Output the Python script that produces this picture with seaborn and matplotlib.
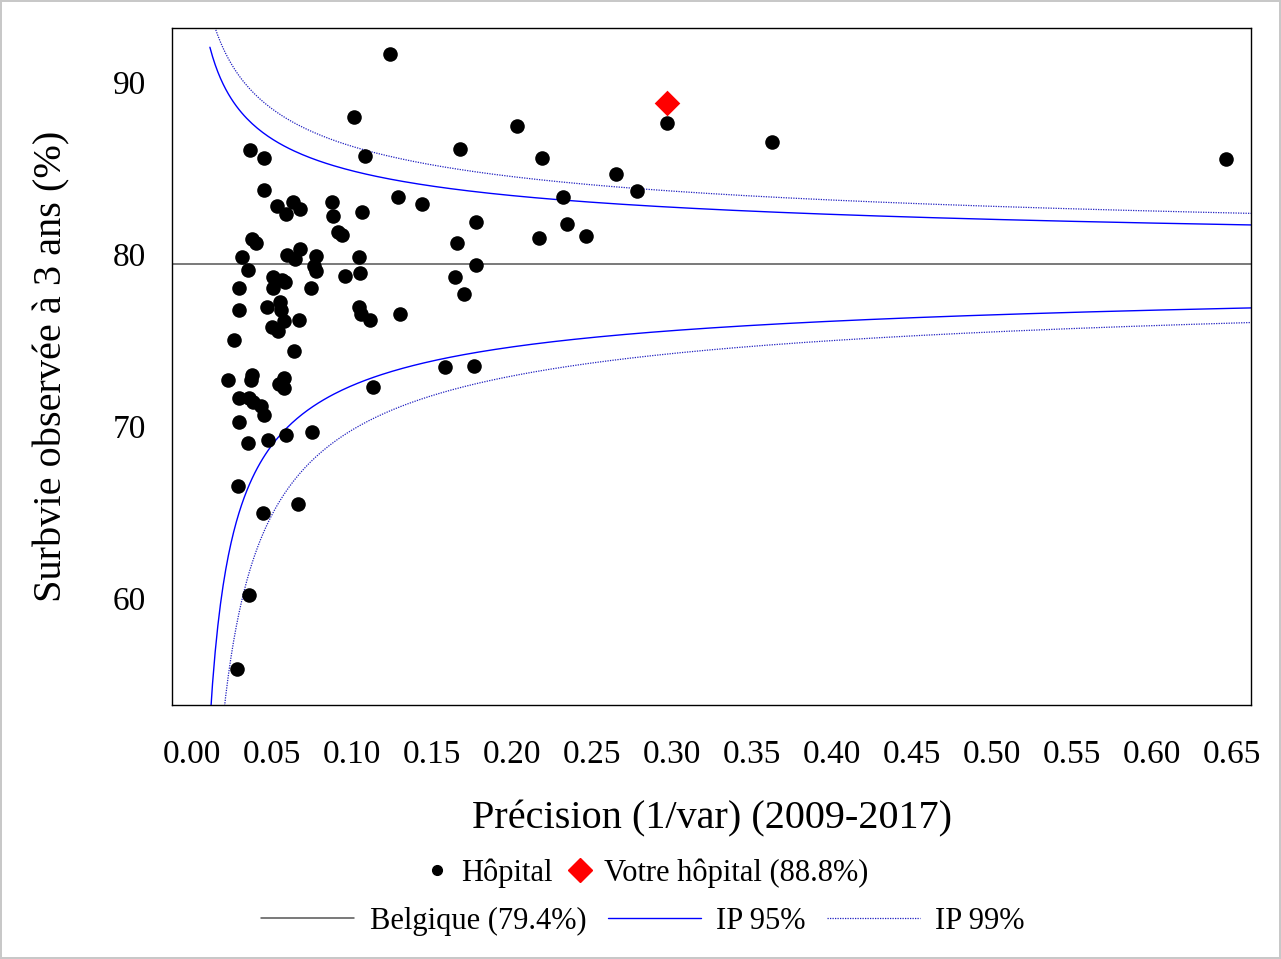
import numpy as np
import pandas as pd
import matplotlib
matplotlib.use("Agg")
import matplotlib.pyplot as plt
from matplotlib.lines import Line2D
import seaborn as sns

# hospitals: precision (1/var) and observed 3-year survival (%)
precision = [0.1233, 0.1009, 0.0361, 0.0450, 0.1079, 0.1671, 0.2027, 0.2183, 0.2969, 0.3624,
             0.6460, 0.2649, 0.2779, 0.2317, 0.2344, 0.2461, 0.2164, 0.1286, 0.1438, 0.1773,
             0.1652, 0.1771, 0.1639, 0.1698, 0.1577, 0.1761, 0.1300, 0.1129, 0.1042, 0.1054,
             0.1108, 0.1048, 0.1042, 0.1063, 0.0872, 0.0880, 0.0913, 0.0933, 0.0952, 0.0775,
             0.0763, 0.0775, 0.0676, 0.0594, 0.0641, 0.0631, 0.0676, 0.0583, 0.0531, 0.0450,
             0.0375, 0.0400, 0.0309, 0.0346, 0.0503, 0.0563, 0.0578, 0.0294, 0.0502, 0.0744,
             0.0290, 0.0464, 0.0547, 0.0553, 0.0575, 0.0669, 0.0496, 0.0533, 0.0258, 0.0633,
             0.0222, 0.0374, 0.0367, 0.0575, 0.0543, 0.0575, 0.0293, 0.0353, 0.0381, 0.0428,
             0.0451, 0.0291, 0.0348, 0.0472, 0.0588, 0.0747, 0.0283, 0.0439, 0.0663, 0.0356,
             0.0277]
survival = [91.61, 87.97, 86.06, 85.58, 85.68, 86.09, 87.46, 85.58, 87.63, 86.53,
            85.52, 84.67, 83.68, 83.31, 81.76, 81.03, 80.91, 83.30, 82.91, 81.86,
            80.66, 79.36, 78.66, 77.67, 73.45, 73.51, 76.49, 72.25, 76.90, 76.49,
            76.15, 78.88, 79.81, 82.46, 83.01, 82.19, 81.28, 81.09, 78.72, 79.91,
            79.28, 79.04, 80.32, 79.97, 79.70, 83.03, 82.60, 82.31, 82.81, 83.70,
            80.89, 80.66, 79.84, 79.07, 78.68, 78.49, 78.37, 78.01, 78.01, 78.01,
            76.74, 76.94, 77.21, 76.74, 76.12, 76.15, 75.77, 75.54, 75.00, 74.36,
            72.67, 72.97, 72.67, 72.79, 72.43, 72.19, 71.61, 71.61, 71.41, 71.19,
            70.66, 70.25, 69.03, 69.17, 69.49, 69.63, 66.52, 64.94, 65.45, 60.19,
            55.85]

# your hospital
own_precision = [0.2966]
own_survival = [88.8]

# national reference and prediction-interval z values
belgium_pct = 79.4
z95 = 1.96
z99 = 2.576

x_ticks = np.round(np.arange(0, 0.651, 0.05), 2)
y_ticks = [60, 70, 80, 90]

# funnel limits on the complementary log-log scale
w = np.linspace(0.011, 0.67, 400)
s0 = belgium_pct / 100
sd_cll = (1 / np.sqrt(w) / 100) / abs(s0 * np.log(s0))
def limit(z):
    return 100 * np.exp(-np.exp(np.log(-np.log(s0)) + z * sd_cll))
funnel = pd.DataFrame({"w": w,
                       "up95": limit(-z95), "lo95": limit(z95),
                       "up99": limit(-z99), "lo99": limit(z99)})

sns.set_theme(style="white")
plt.rcParams["font.family"] = ["Liberation Serif", "DejaVu Serif"]
plt.rcParams["text.color"] = "black"

fig = plt.figure(figsize=(12.81, 9.59), dpi=100)
fig.patch.set_edgecolor("#c8c8c8")
fig.patch.set_linewidth(1.5)
ax = fig.add_axes([172.3 / 1281, 1 - 705 / 959, (1251 - 172.3) / 1281, (705 - 28) / 959])

ax.axhline(belgium_pct, color="#555555", lw=1.1, zorder=1)
sns.lineplot(data=funnel, x="w", y="up95", ax=ax, color="blue", lw=1.0, zorder=2)
sns.lineplot(data=funnel, x="w", y="lo95", ax=ax, color="blue", lw=1.0, zorder=2)
sns.lineplot(data=funnel, x="w", y="up99", ax=ax, color="#2020c0", lw=0.9, ls=(0, (1, 1)), zorder=2)
sns.lineplot(data=funnel, x="w", y="lo99", ax=ax, color="#2020c0", lw=0.9, ls=(0, (1, 1)), zorder=2)

sns.scatterplot(x=precision, y=survival, ax=ax, color="black", s=110, linewidth=0, zorder=3, legend=False)
sns.scatterplot(x=own_precision, y=own_survival, ax=ax, color="red", marker="D", s=170,
                linewidth=0, zorder=4, legend=False)

ax.set_xlim(-0.0125, 0.6617)
ax.set_ylim(53.78, 93.14)
ax.set_xticks(x_ticks)
ax.set_xticklabels([f"{t:.2f}" for t in x_ticks])
ax.set_yticks(y_ticks)
for sp in ax.spines.values():
    sp.set_color("black")
    sp.set_linewidth(1.0)
ax.tick_params(axis="both", direction="out", length=11, width=1, color="black",
               labelsize=24, labelcolor="black")
ax.tick_params(axis="x", pad=14)
ax.tick_params(axis="y", pad=8)

ax.set_xlabel("Précision (1/var) (2009-2017)", fontsize=29, labelpad=22, color="black")
ax.set_ylabel("Surbvie observée à 3 ans (%)", fontsize=29, labelpad=30, color="black")

h1 = [Line2D([], [], marker="o", color="black", ls="", markersize=7),
      Line2D([], [], marker="D", color="red", ls="", markersize=12)]
fig.legend(h1, ["Hôpital", "Votre hôpital (88.8%)"], loc="center",
           bbox_to_anchor=(645 / 1281, 1 - 873 / 959), ncol=2, frameon=False,
           fontsize=22, handletextpad=0.3, columnspacing=0.4, handlelength=1.0)

h2 = [Line2D([], [], color="#555555", lw=1.1),
      Line2D([], [], color="blue", lw=1.0),
      Line2D([], [], color="#2020c0", lw=0.9, ls=(0, (1, 1)))]
fig.legend(h2, ["Belgique (79.4%)", "IP 95%", "IP 99%"], loc="center",
           bbox_to_anchor=(643 / 1281, 1 - 921 / 959), ncol=3, frameon=False,
           fontsize=22, handletextpad=0.5, columnspacing=0.7, handlelength=3.05)

fig.savefig("out.png", dpi=100)
